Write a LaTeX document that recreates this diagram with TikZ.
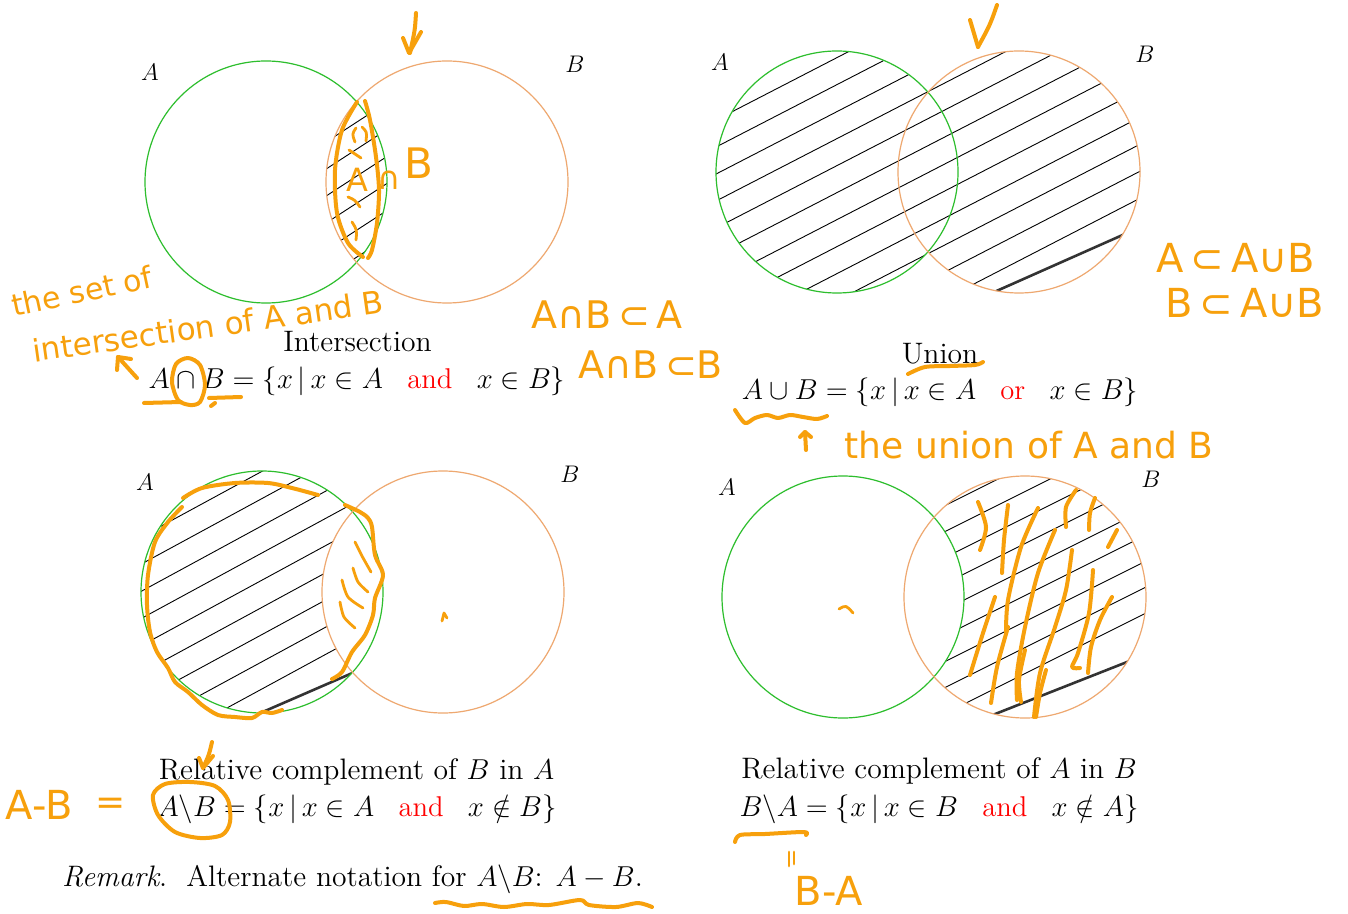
\documentclass[tikz,border=0pt]{standalone}
\usepackage{fontspec}
\newfontfamily\hand{DejaVu Sans}
\definecolor{hand}{RGB}{247,160,12}
\definecolor{setA}{RGB}{45,190,45}
\definecolor{setB}{RGB}{238,168,112}
\newcommand{\gapw}{\hspace{0.85em}}
\begin{document}
\begin{tikzpicture}[x=0.5pt,y=-0.5pt,
  cA/.style={draw=setA, line width=0.6pt},
  cB/.style={draw=setB, line width=0.6pt},
  hatch/.style={line width=0.45pt, black},
  thickhatch/.style={line width=1.3pt, black!80},
  ink/.style={draw=hand, line width=2pt, line cap=round, line join=round},
  thinink/.style={draw=hand, line width=1.4pt, line cap=round, line join=round},
  inktext/.style={text=hand, inner sep=0pt},
  lbl/.style={font=\fontsize{13}{13}\selectfont, inner sep=0pt},
  txt/.style={font=\fontsize{14.8}{17}\selectfont, inner sep=0pt, anchor=base},
  frm/.style={font=\fontsize{14.3}{17}\selectfont, inner sep=0pt, anchor=base}]

\useasboundingbox[fill=white] (0,0) rectangle (1348,914);

% ---------------- Intersection ----------------
\coordinate (A1) at (266,182);
\coordinate (B1) at (447,182);
\begin{scope}
  \clip (A1) circle[radius=60.5pt];
  \clip (B1) circle[radius=60.5pt];
  \foreach \k in {0,...,5}{
    \pgfmathsetmacro\bb{354+27*\k}
    \draw[hatch] (300,{\bb-0.65*300}) -- (420,{\bb-0.65*420});
  }
\end{scope}
\draw[cA] (A1) circle[radius=60.5pt];
\draw[cB] (B1) circle[radius=60.5pt];
\node[lbl] (lA1) at (150,72) {$A$};
\node[lbl] (lB1) at (575,64) {$B$};
\node[txt] (t1) at (357.5,351) {Intersection};
\node[frm] (f1) at (357,388.3) {$A\cap B=\{x\,|\,x\in A\gapw\textcolor{red}{\mbox{and}}\gapw x\in B\}$};

% ---------------- Union ----------------
\coordinate (A2) at (837,172);
\coordinate (B2) at (1019,172);
\begin{scope}
  \clip (A2) circle[radius=60.5pt] (B2) circle[radius=60.5pt];
  \foreach \k in {0,...,11}{
    \pgfmathsetmacro\bb{489.5+27*\k}
    \draw[hatch] (700,{\bb-0.516*700}) -- (1160,{\bb-0.516*1160});
  }
  \draw[thickhatch] (985,296.1) -- (1135,229.5);
\end{scope}
\draw[cA] (A2) circle[radius=60.5pt];
\draw[cB] (B2) circle[radius=60.5pt];
\node[lbl] (lA2) at (720,62) {$A$};
\node[lbl] (lB2) at (1145,54) {$B$};
\node[txt] (t2) at (940,363.3) {Union};
\node[frm] (f2) at (940,400) {$A\cup B=\{x\,|\,x\in A\gapw\textcolor{red}{\mbox{or}}\gapw x\in B\}$};

% ---------------- A minus B ----------------
\coordinate (A3) at (262,592);
\coordinate (B3) at (443,592);
\begin{scope}[even odd rule]
  \clip (A3) circle[radius=60.5pt];
  \clip (B3) circle[radius=60.5pt] (0,0) rectangle (1348,914);
  \foreach \k in {0,...,8}{
    \pgfmathsetmacro\bb{613.6+27.2*\k}
    \draw[hatch] (130,{\bb-0.543*130}) -- (400,{\bb-0.543*400});
  }
  \draw[thickhatch] (250,717.5) -- (360,669.7);
\end{scope}
\draw[cA] (A3) circle[radius=60.5pt];
\draw[cB] (B3) circle[radius=60.5pt];
\node[lbl] (lA3) at (145,482) {$A$};
\node[lbl] (lB3) at (570,474) {$B$};
\node[txt] (t3) at (356.5,779.3) {Relative complement of $B$ in $A$};
\node[frm] (f3) at (357,816.7) {$A\backslash B=\{x\,|\,x\in A\gapw\textcolor{red}{\mbox{and}}\gapw x\notin B\}$};
\node[txt] (rem) at (352.5,886.7) {\textit{Remark}.\ \ Alternate notation for $A\backslash B$: $A-B$.};

% ---------------- B minus A ----------------
\coordinate (A4) at (843,597);
\coordinate (B4) at (1025,597);
\begin{scope}[even odd rule]
  \clip (B4) circle[radius=60.5pt];
  \clip (A4) circle[radius=60.5pt] (0,0) rectangle (1348,914);
  \foreach \k in {0,...,8}{
    \pgfmathsetmacro\bb{978+26*\k}
    \draw[hatch] (890,{\bb-0.5*890}) -- (1160,{\bb-0.5*1160});
  }
  \draw[thickhatch] (985,718) -- (1140,656.9);
\end{scope}
\draw[cA] (A4) circle[radius=60.5pt];
\draw[cB] (B4) circle[radius=60.5pt];
\node[lbl] (lA4) at (727,487) {$A$};
\node[lbl] (lB4) at (1151,479) {$B$};
\node[txt] (t4) at (939,778.3) {Relative complement of $A$ in $B$};
\node[frm] (f4) at (939,816.7) {$B\backslash A=\{x\,|\,x\in B\gapw\textcolor{red}{\mbox{and}}\gapw x\notin A\}$};

% ================= handwritten annotations =================
% top-left arrow
\draw[ink] (416,13) .. controls (415,30) .. (410,53);
\draw[ink] (403,38) -- (409,53) -- (421,32);
% lens outline
\draw[ink] plot[smooth] coordinates {(357,102) (342,130) (335,170) (337,213) (348,243) (363,257)};
\draw[ink] plot[smooth] coordinates {(365,101) (370,120) (376,157) (379,190) (377,223) (372,250) (368,258)};
\draw[thinink] (356,128) .. controls (352,134) .. (355,142);
\draw[thinink] (362,127) .. controls (367,132) .. (366,141);
\draw[thinink] (349,150) .. controls (355,154) .. (361,158);
\draw[thinink] (348,197) .. controls (355,200) .. (360,207);
\draw[thinink] (352,222) .. controls (357,230) .. (356,240);
\node[inktext, font=\hand\fontsize{16}{16}\selectfont] (hA) at (357,180) {A};
\node[inktext, font=\hand\fontsize{16}{16}\selectfont] (hcap) at (389,180) {∩};
\node[inktext, font=\hand\fontsize{21}{21}\selectfont] (hB) at (419,163) {B};
% the set of intersection of A and B
\node[inktext, font=\hand\fontsize{15}{15}\selectfont, rotate=12] (hset) at (82,291) {the set of};
\node[inktext, font=\hand\fontsize{15.5}{15.5}\selectfont, rotate=8] (hinter) at (208,326) {intersection of A and B};
\draw[ink] (137,378) -- (118,357);
\draw[ink] (117,370) -- (118,357) -- (131,359);
% circle around cap, underlines
\draw[ink] plot[smooth cycle] coordinates {(188,358) (200,365) (205,385) (200,402) (190,405) (178,400) (172,382) (176,364)};
\draw[ink] (144,403) -- (181,402);
\draw[ink] (209,398) -- (241,397);
\draw[ink] (211,406) -- (215,403);
% A n B c A, A n B c B
\node[inktext, font=\hand\fontsize{19}{19}\selectfont] (hsub1) at (607,315) {A∩B\,⊂\,A};
\node[inktext, font=\hand\fontsize{19}{19}\selectfont] (hsub2) at (651,365) {A∩B\,⊂B};
% top-right arrow
\draw[ink] (997,5) .. controls (990,25) .. (978,47);
\draw[ink] (970,20) -- (978,47);
% A c AuB, B c AuB
\node[inktext, font=\hand\fontsize{20}{20}\selectfont] (hsub3) at (1236,258) {A\,⊂\,A∪B};
\node[inktext, font=\hand\fontsize{20}{20}\selectfont] (hsub4) at (1245,303) {B\,⊂\,A∪B};
% union underline and squiggle
\draw[ink] plot[smooth] coordinates {(908,374) (925,367) (950,366) (975,365) (983,362)};
\draw[ink] plot[smooth] coordinates {(735,410) (745,423) (755,418) (767,415) (778,418) (790,415) (803,417) (817,419) (827,416)};
\draw[ink] (806,450) -- (805,432);
\draw[ink] (800,437) -- (805,432) -- (811,437);
\node[inktext, font=\hand\fontsize{18}{18}\selectfont] (hunion) at (1029,445) {the union of A and B};
% A minus B outline
\draw[ink] plot[smooth] coordinates {(183,498) (202,488) (235,483) (268,483) (292,488) (318,495)};
\draw[ink] plot[smooth] coordinates {(182,507) (168,522) (155,542) (148,575) (147,605) (150,632) (157,652) (168,668) (175,682) (188,692) (202,705) (218,715) (235,717) (252,718) (262,712) (272,713) (282,710)};
\draw[ink] plot[smooth] coordinates {(345,505) (360,512) (368,518) (372,527) (375,555) (383,575) (375,598) (373,615) (365,635) (352,652) (342,672) (332,679)};
\draw[thinink] plot[smooth] coordinates {(355,542) (362,556) (371,572)};
\draw[thinink] plot[smooth] coordinates {(353,568) (358,582) (368,592)};
\draw[thinink] plot[smooth] coordinates {(342,580) (348,597) (363,608)};
\draw[thinink] plot[smooth] coordinates {(340,602) (344,617) (355,628)};
\draw[thinink] (442,621) -- (444,613) -- (447,618);
% arrow above Relative
\draw[ink] (212,742) .. controls (209,755) .. (203,768);
\draw[ink] (199,758) -- (203,768) -- (213,756);
% circle around A\B
\draw[ink] plot[smooth cycle] coordinates {(190,782) (215,786) (228,800) (230,822) (222,835) (200,838) (175,832) (158,815) (153,795) (165,784)};
\node[inktext, font=\hand\fontsize{20}{20}\selectfont] (hAmB) at (39,805) {A-B};
\node[inktext, font=\hand\fontsize{18}{18}\selectfont] (heq) at (111,806) {=};
% remark underline
\draw[ink] plot[smooth] coordinates {(435,903) (446,902) (464,906) (482,904) (504,907) (527,904) (549,905) (580,900) (589,905) (616,907) (638,903) (652,907)};
% B minus A scribbles
\draw[ink] plot[smooth] coordinates {(978,502) (986,527) (980,550)};
\draw[ink] plot[smooth] coordinates {(1008,505) (1004,540) (1002,573)};
\draw[ink] plot[smooth] coordinates {(1038,508) (1021,547) (1008,600) (1006,632)};
\draw[ink] plot[smooth] coordinates {(1055,530) (1038,573) (1025,627) (1017,673) (1017,700)};
\draw[ink] plot[smooth] coordinates {(1076,490) (1066,507) (1066,527)};
\draw[ink] plot[smooth] coordinates {(1095,498) (1090,513) (1089,530)};
\draw[ink] (1117,530) -- (1108,547);
\draw[ink] plot[smooth] coordinates {(1072,550) (1066,590) (1055,627) (1040,673) (1034,717)};
\draw[ink] plot[smooth] coordinates {(1093,570) (1089,613) (1078,653) (1072,667) (1080,668)};
\draw[ink] plot[smooth] coordinates {(1112,597) (1100,620) (1091,647) (1088,673)};
\draw[ink] plot[smooth] coordinates {(995,597) (983,633) (970,675)};
\draw[ink] plot[smooth] coordinates {(1008,627) (997,667) (991,703)};
\draw[ink] plot[smooth] coordinates {(1025,650) (1019,680) (1021,702)};
\draw[ink] plot[smooth] coordinates {(1046,670) (1040,693) (1036,717)};
\draw[thinink] (839,609) .. controls (846,605) .. (853,613);
% B\A underline, equals, B-A
\draw[ink] plot[smooth] coordinates {(735,842) (740,835) (765,834) (804,832) (806,835)};
\draw[thinink] (789,852) -- (789,866);
\draw[thinink] (794,852) -- (794,864);
\node[inktext, font=\hand\fontsize{20}{20}\selectfont] (hBmA) at (829,891) {B-A};
\end{tikzpicture}
\end{document}
